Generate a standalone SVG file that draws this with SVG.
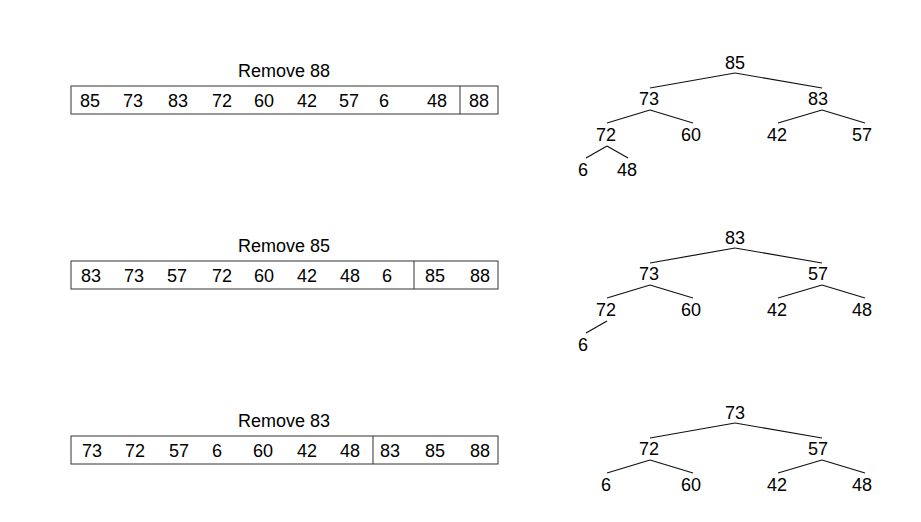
<svg xmlns="http://www.w3.org/2000/svg" width="921" height="522" viewBox="0 0 921 522">
<style>
text{font-family:"Liberation Sans",Arial,sans-serif;font-size:18px;fill:#000;text-anchor:middle}
.box{fill:#fff;stroke:#333;stroke-width:1}
.div{stroke:#333;stroke-width:1}
.edge{stroke:#111;stroke-width:1.2;fill:none}
</style>
<rect width="921" height="522" fill="#fff"/>
<g id="array1">
<text x="284" y="77">Remove 88</text>
<rect class="box" x="71" y="86" width="427" height="28"/>
<line class="div" x1="460" y1="86" x2="460" y2="114"/>
<text x="90" y="107">85</text><text x="133" y="107">73</text><text x="178" y="107">83</text><text x="222" y="107">72</text><text x="264" y="107">60</text><text x="307" y="107">42</text><text x="349" y="107">57</text><text x="384" y="107">6</text><text x="437" y="107">48</text><text x="479" y="107">88</text>
</g>
<g id="array2">
<text x="284" y="252">Remove 85</text>
<rect class="box" x="71" y="261" width="427" height="28"/>
<line class="div" x1="414" y1="261" x2="414" y2="289"/>
<text x="91" y="282">83</text><text x="134" y="282">73</text><text x="177" y="282">57</text><text x="222" y="282">72</text><text x="264" y="282">60</text><text x="307" y="282">42</text><text x="350" y="282">48</text><text x="387" y="282">6</text><text x="435" y="282">85</text><text x="480" y="282">88</text>
</g>
<g id="array3">
<text x="284" y="427">Remove 83</text>
<rect class="box" x="71" y="436" width="427" height="28"/>
<line class="div" x1="373" y1="436" x2="373" y2="464"/>
<text x="92" y="457">73</text><text x="135" y="457">72</text><text x="179" y="457">57</text><text x="217" y="457">6</text><text x="263" y="457">60</text><text x="307" y="457">42</text><text x="350" y="457">48</text><text x="390" y="457">83</text><text x="435" y="457">85</text><text x="480" y="457">88</text>
</g>
<g id="connectors">
<line class="edge" x1="735" y1="73" x2="650" y2="88"/><line class="edge" x1="735" y1="73" x2="822" y2="88"/>
<line class="edge" x1="650" y1="110" x2="607" y2="123"/><line class="edge" x1="650" y1="110" x2="693" y2="123"/>
<line class="edge" x1="822" y1="110" x2="778" y2="123"/><line class="edge" x1="822" y1="110" x2="865" y2="123"/>
<line class="edge" x1="607" y1="146" x2="586" y2="158"/><line class="edge" x1="607" y1="146" x2="628" y2="158"/>
<line class="edge" x1="735" y1="248" x2="650" y2="263"/><line class="edge" x1="735" y1="248" x2="822" y2="263"/>
<line class="edge" x1="650" y1="285" x2="607" y2="298"/><line class="edge" x1="650" y1="285" x2="693" y2="298"/>
<line class="edge" x1="822" y1="285" x2="778" y2="298"/><line class="edge" x1="822" y1="285" x2="865" y2="298"/>
<line class="edge" x1="607" y1="321" x2="586" y2="333"/>
<line class="edge" x1="735" y1="423" x2="650" y2="438"/><line class="edge" x1="735" y1="423" x2="822" y2="438"/>
<line class="edge" x1="650" y1="460" x2="607" y2="473"/><line class="edge" x1="650" y1="460" x2="693" y2="473"/>
<line class="edge" x1="822" y1="460" x2="778" y2="473"/><line class="edge" x1="822" y1="460" x2="865" y2="473"/>
</g>
<g id="t1-85"><text x="735" y="69">85</text></g>
<g id="t1-73"><text x="649" y="105">73</text></g>
<g id="t1-83"><text x="818" y="105">83</text></g>
<g id="t1-72"><text x="606" y="141">72</text></g>
<g id="t1-60"><text x="691" y="141">60</text></g>
<g id="t1-42"><text x="777" y="141">42</text></g>
<g id="t1-57"><text x="862" y="141">57</text></g>
<g id="t1-6"><text x="583" y="176">6</text></g>
<g id="t1-48"><text x="627" y="176">48</text></g>
<g id="t2-83"><text x="735" y="244">83</text></g>
<g id="t2-73"><text x="649" y="280">73</text></g>
<g id="t2-57"><text x="818" y="280">57</text></g>
<g id="t2-72"><text x="606" y="316">72</text></g>
<g id="t2-60"><text x="691" y="316">60</text></g>
<g id="t2-42"><text x="777" y="316">42</text></g>
<g id="t2-48"><text x="862" y="316">48</text></g>
<g id="t2-6"><text x="583" y="351">6</text></g>
<g id="t3-73"><text x="735" y="419">73</text></g>
<g id="t3-72"><text x="649" y="455">72</text></g>
<g id="t3-57"><text x="818" y="455">57</text></g>
<g id="t3-6"><text x="606" y="491">6</text></g>
<g id="t3-60"><text x="691" y="491">60</text></g>
<g id="t3-42"><text x="777" y="491">42</text></g>
<g id="t3-48"><text x="862" y="491">48</text></g>
</svg>
